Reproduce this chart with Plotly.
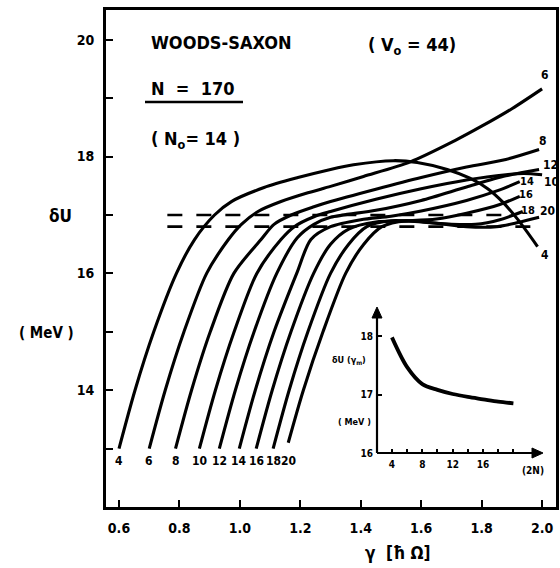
import plotly.graph_objects as go

# Shell-correction energy dU versus deformation parameter gamma, Woods-Saxon, N = 170.
# One curve per number of shells N0 (4 ... 20).
gamma_4 = [0.60, 0.653, 0.715, 0.79, 0.85, 0.916, 0.972, 1.08, 1.192, 1.30, 1.376, 1.508, 1.587, 1.686, 1.761, 1.82, 1.87, 1.92, 1.985]
du_4 = [13.0, 14.0, 15.0, 16.0, 16.58, 17.0, 17.23, 17.47, 17.64, 17.78, 17.86, 17.93, 17.90, 17.78, 17.63, 17.45, 17.22, 16.92, 16.46]

gamma_6 = [0.70, 0.753, 0.815, 0.89, 0.962, 1.005, 1.06, 1.136, 1.225, 1.30, 1.409, 1.564, 1.71, 1.80, 1.90, 2.0]
du_6 = [13.0, 14.0, 15.0, 16.0, 16.58, 16.84, 17.06, 17.23, 17.38, 17.49, 17.66, 17.91, 18.27, 18.52, 18.82, 19.16]

gamma_8 = [0.787, 0.84, 0.902, 0.98, 1.07, 1.113, 1.17, 1.245, 1.30, 1.45, 1.60, 1.75, 1.88, 1.99]
du_8 = [13.0, 14.0, 15.0, 16.0, 16.58, 16.84, 17.0, 17.14, 17.23, 17.44, 17.64, 17.82, 17.95, 18.12]

gamma_10 = [0.866, 0.919, 0.981, 1.056, 1.136, 1.18, 1.245, 1.30, 1.45, 1.60, 1.75, 1.88, 1.94, 2.0]
du_10 = [13.0, 14.0, 15.0, 16.0, 16.58, 16.80, 16.97, 17.06, 17.27, 17.45, 17.60, 17.69, 17.71, 17.69]

gamma_12 = [0.932, 0.985, 1.047, 1.122, 1.19, 1.245, 1.30, 1.45, 1.60, 1.75, 1.88, 1.99]
du_12 = [13.0, 14.0, 15.0, 16.0, 16.61, 16.84, 16.96, 17.08, 17.25, 17.48, 17.67, 17.78]

gamma_14 = [0.998, 1.051, 1.113, 1.188, 1.235, 1.30, 1.40, 1.50, 1.60, 1.75, 1.86, 1.926]
du_14 = [13.0, 14.0, 15.0, 16.0, 16.58, 16.80, 16.92, 16.98, 17.07, 17.25, 17.43, 17.57]

gamma_16 = [1.054, 1.107, 1.169, 1.244, 1.30, 1.36, 1.45, 1.55, 1.65, 1.75, 1.86, 1.926]
du_16 = [13.0, 14.0, 15.0, 16.0, 16.5, 16.76, 16.88, 16.90, 16.93, 17.03, 17.18, 17.32]

gamma_18 = [1.11, 1.163, 1.225, 1.30, 1.36, 1.42, 1.50, 1.60, 1.70, 1.78, 1.86, 1.936]
du_18 = [13.0, 14.0, 15.0, 16.0, 16.5, 16.8, 16.9, 16.88, 16.84, 16.84, 16.92, 17.06]

gamma_20 = [1.16, 1.21, 1.275, 1.35, 1.41, 1.47, 1.55, 1.65, 1.75, 1.85, 1.92, 1.99]
du_20 = [13.1, 14.0, 15.0, 16.0, 16.5, 16.8, 16.9, 16.86, 16.80, 16.80, 16.87, 16.96]

shell_numbers = [4, 6, 8, 10, 12, 14, 16, 18, 20]

# Reference levels (dashed)
dash_upper_x = [0.76, 1.90]
dash_upper_y = [17.0, 17.0]
dash_lower_x = [0.76, 2.0]
dash_lower_y = [16.8, 16.8]

# Inset: dU at the minimum versus N0
inset_n0 = [4, 6, 8, 10, 12, 14, 16, 18, 20]
inset_du = [17.98, 17.47, 17.18, 17.08, 17.01, 16.96, 16.92, 16.88, 16.85]

x_ticks = [0.6, 0.8, 1.0, 1.2, 1.4, 1.6, 1.8, 2.0]
x_tick_text = ["0.6", "0.8", "1.0", "1.2", "1.4", "1.6", "1.8", "2.0"]
y_ticks = [14, 16, 18, 20]
y_minor_ticks = [13, 15, 17, 19]
inset_x_ticks = [4, 8, 12, 16]
inset_x_minor_ticks = [6, 10, 14, 18, 20]
inset_y_ticks = [16, 17, 18]

FONT = "DejaVu Sans Condensed, Liberation Sans Narrow, DejaVu Sans, sans-serif"

W, H = 560, 568
L, R, T, B = 106, 4, 10, 61
PW, PH = W - L - R, H - T - B


def px_to_paper(px, py):
    return (px - L) / PW, (H - B - py) / PH


curves = [
    (gamma_4, du_4), (gamma_6, du_6), (gamma_8, du_8), (gamma_10, du_10),
    (gamma_12, du_12), (gamma_14, du_14), (gamma_16, du_16), (gamma_18, du_18),
    (gamma_20, du_20),
]

fig = go.Figure()

for gx, gy in curves:
    fig.add_trace(go.Scatter(
        x=gx, y=gy, mode="lines",
        line=dict(color="black", width=3.1, shape="spline", smoothing=0.8),
        hoverinfo="skip", showlegend=False, xaxis="x", yaxis="y",
    ))

for dx, dy in [(dash_upper_x, dash_upper_y), (dash_lower_x, dash_lower_y)]:
    fig.add_trace(go.Scatter(
        x=dx, y=dy, mode="lines",
        line=dict(color="black", width=2.6, dash="15px,14px"),
        hoverinfo="skip", showlegend=False, xaxis="x", yaxis="y",
    ))

fig.add_trace(go.Scatter(
    x=inset_n0, y=inset_du, mode="lines",
    line=dict(color="black", width=3.8, shape="spline", smoothing=0.9),
    hoverinfo="skip", showlegend=False, xaxis="x2", yaxis="y2",
))

annotations = []

# curve labels at the foot of each curve
for n, (gx, gy) in zip(shell_numbers, curves):
    annotations.append(dict(
        x=gx[0], y=12.78, xref="x", yref="y", text=str(n), showarrow=False,
        font=dict(family=FONT, size=12, color="black", weight="bold"),
        xanchor="center", yanchor="middle",
    ))

# curve labels at the right-hand end
end_labels = {4: (545, 255), 6: (545, 75), 8: (543, 141), 10: (551, 182), 12: (550, 165),
              14: (527, 181), 16: (526, 194), 18: (528, 210), 20: (547, 211)}
for n, (lx, ly) in end_labels.items():
    xp, yp = px_to_paper(lx, ly)
    annotations.append(dict(
        x=xp, y=yp, xref="paper", yref="paper", text=str(n), showarrow=False,
        font=dict(family=FONT, size=12 if n not in (14, 16, 18) else 11, color="black", weight="bold"),
        xanchor="center", yanchor="middle",
    ))


def text_at(px, py, s, size, anchor="left"):
    xp, yp = px_to_paper(px, py)
    annotations.append(dict(
        x=xp, y=yp, xref="paper", yref="paper", text=s, showarrow=False,
        font=dict(family=FONT, size=size, color="black", weight="bold"),
        xanchor=anchor, yanchor="middle",
    ))


text_at(149, 43, "WOODS-SAXON", 18)
text_at(366, 46, "( V<sub>o</sub> = 44)", 18)
text_at(149, 88, "N  =  170", 18)
text_at(149, 140, "( N<sub>o</sub>= 14 )", 18)
text_at(60, 216, "δU", 17, "center")
text_at(47, 333, "( MeV )", 15, "center")
text_at(397, 553, "γ  [ħ Ω]", 17, "center")

# inset labels
text_at(349, 360, "δU (γ<sub>m</sub>)", 9, "center")
text_at(354, 422, "( MeV )", 9, "center")
text_at(533, 470, "(2N)", 10, "center")

# underline below "N = 170"
x0p, y0p = px_to_paper(145, 102)
x1p, _ = px_to_paper(243, 102)
shapes = [dict(type="line", xref="paper", yref="paper", x0=x0p, x1=x1p, y0=y0p, y1=y0p,
               line=dict(color="black", width=2.5))]

# inset frame: two axis lines ending in arrowheads
ix0, iy0 = px_to_paper(377, 453)
ix1, iy1 = px_to_paper(543, 307)
ah_w, ah_h = 5 / PW, 5 / PH      # arrowhead half-width / half-height in paper units
ah_l_x, ah_l_y = 11 / PW, 11 / PH  # arrowhead length in paper units
shapes += [
    dict(type="line", xref="paper", yref="paper", x0=ix0, y0=iy0, x1=ix1 - ah_l_x, y1=iy0,
         line=dict(color="black", width=2.2)),
    dict(type="line", xref="paper", yref="paper", x0=ix0, y0=iy0, x1=ix0, y1=iy1 - ah_l_y,
         line=dict(color="black", width=2.2)),
    dict(type="path", xref="paper", yref="paper",
         path=f"M {ix1} {iy0} L {ix1 - ah_l_x} {iy0 + ah_h} L {ix1 - ah_l_x} {iy0 - ah_h} Z",
         fillcolor="black", line=dict(color="black", width=1)),
    dict(type="path", xref="paper", yref="paper",
         path=f"M {ix0} {iy1} L {ix0 - ah_w} {iy1 - ah_l_y} L {ix0 + ah_w} {iy1 - ah_l_y} Z",
         fillcolor="black", line=dict(color="black", width=1)),
]

fig.update_layout(
    width=W, height=H,
    margin=dict(l=L, r=R, t=T, b=B),
    paper_bgcolor="white", plot_bgcolor="white",
    showlegend=False,
    xaxis=dict(
        range=[0.557, 2.046], tickvals=x_ticks, ticktext=x_tick_text,
        ticks="inside", ticklen=7, tickwidth=2, tickcolor="black",
        showline=True, mirror=True, linewidth=2.6, linecolor="black",
        showgrid=False, zeroline=False, automargin=False,
        tickfont=dict(family=FONT, size=14, color="black", weight="bold"),
        ticklabelstandoff=6,
    ),
    yaxis=dict(
        range=[12.0, 20.51], tickvals=y_ticks,
        ticks="inside", ticklen=7, tickwidth=2, tickcolor="black",
        minor=dict(tickvals=y_minor_ticks, ticks="inside", ticklen=7, tickwidth=2,
                   tickcolor="black", showgrid=False),
        showline=True, mirror=True, linewidth=2.6, linecolor="black",
        showgrid=False, zeroline=False, automargin=False,
        tickfont=dict(family=FONT, size=14, color="black", weight="bold"),
        ticklabelstandoff=6,
    ),
    xaxis2=dict(
        domain=[ix0, ix1], anchor="y2", range=[2.03, 23.9],
        tickvals=inset_x_ticks,
        ticks="inside", ticklen=4, tickwidth=1.8, tickcolor="black",
        minor=dict(tickvals=inset_x_minor_ticks, ticks="inside", ticklen=4, tickwidth=1.8,
                   tickcolor="black", showgrid=False),
        showline=False, showgrid=False, zeroline=False, automargin=False,
        tickfont=dict(family=FONT, size=10, color="black", weight="bold"),
        ticklabelstandoff=4,
    ),
    yaxis2=dict(
        domain=[iy0, iy1], anchor="x2", range=[16, 18.5],
        tickvals=inset_y_ticks,
        ticks="inside", ticklen=5, tickwidth=1.8, tickcolor="black",
        showline=False, showgrid=False, zeroline=False, automargin=False,
        tickfont=dict(family=FONT, size=10, color="black", weight="bold"),
        ticklabelstandoff=3,
    ),
    annotations=annotations,
    shapes=shapes,
)

fig.write_html("out.html")
